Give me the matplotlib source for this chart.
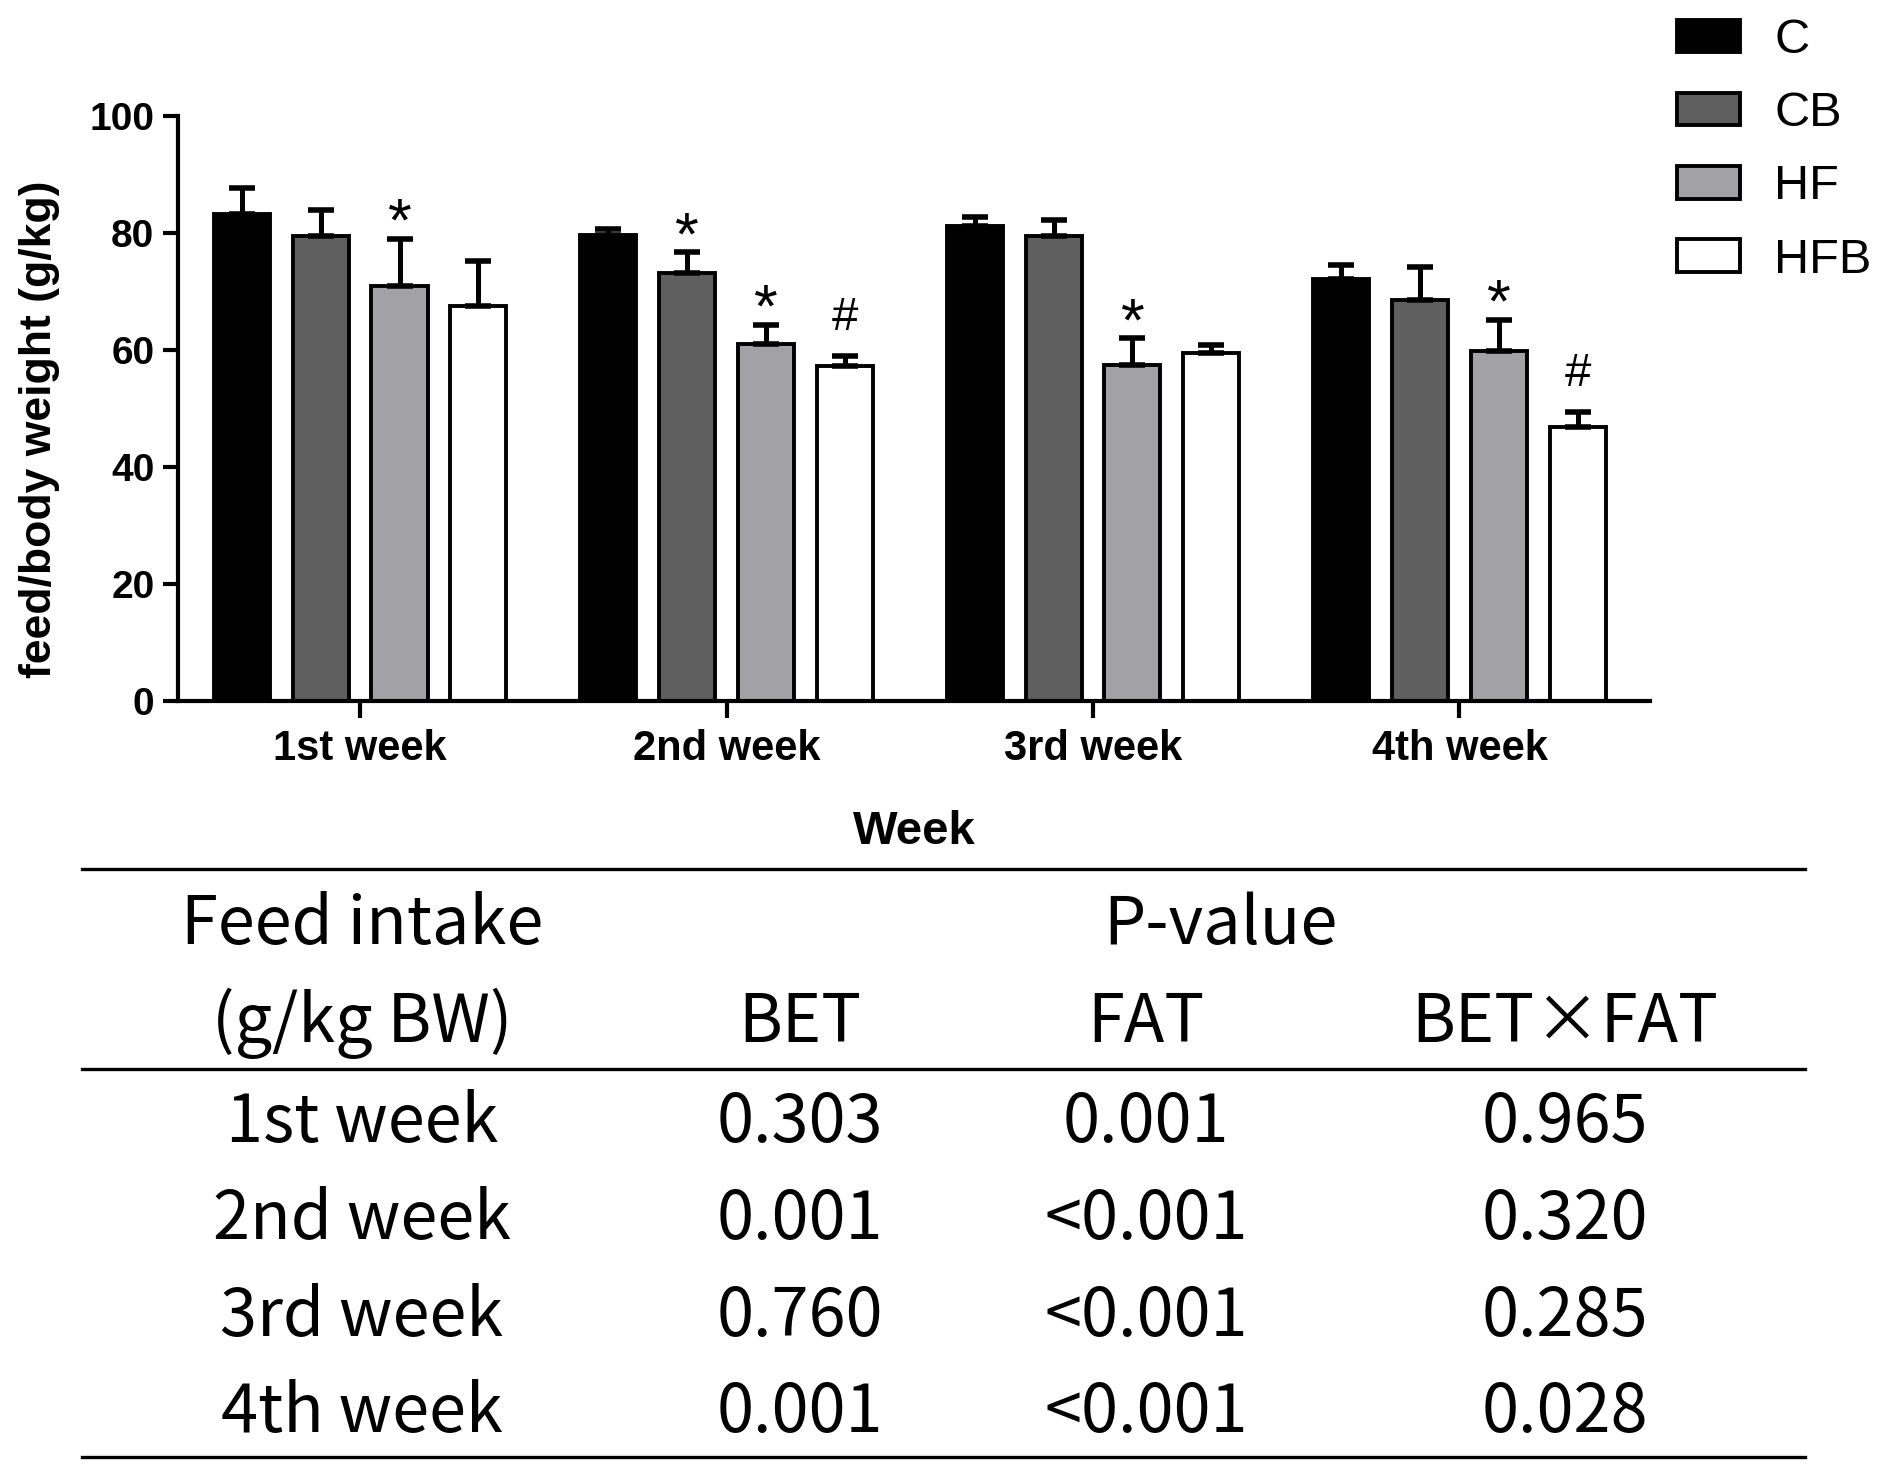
import numpy as np
import matplotlib.pyplot as plt
from matplotlib.lines import Line2D

# ---- data ----
weeks = ['1st week', '2nd week', '3rd week', '4th week']
groups = ['C', 'CB', 'HF', 'HFB']
colors = ['#000000', '#5f5f5f', '#a1a1a6', '#ffffff']

c_mean = [83.2, 79.7, 81.2, 72.1]
c_err = [4.5, 0.9, 1.6, 2.4]
cb_mean = [79.5, 73.1, 79.5, 68.5]
cb_err = [4.5, 3.6, 2.8, 5.7]
hf_mean = [71.0, 61.0, 57.5, 59.9]
hf_err = [8.0, 3.3, 4.5, 5.2]
hfb_mean = [67.5, 57.2, 59.5, 46.9]
hfb_err = [7.7, 1.8, 1.3, 2.5]

means = [c_mean, cb_mean, hf_mean, hfb_mean]
errs = [c_err, cb_err, hf_err, hfb_err]

# significance marks
sig_week = [0, 1, 1, 1, 2, 3, 3]
sig_group = [2, 1, 2, 3, 2, 2, 3]
sig_sym = ['*', '*', '*', '#', '*', '*', '#']

# table
tab_head1 = ['Feed intake', 'P-value']
tab_head2 = ['(g/kg BW)', 'BET', 'FAT', 'BET×FAT']
tab_rows = ['1st week', '2nd week', '3rd week', '4th week']
p_bet = ['0.303', '0.001', '0.760', '0.001']
p_fat = ['0.001', '<0.001', '<0.001', '<0.001']
p_int = ['0.965', '0.320', '0.285', '0.028']

W, H = 1890, 1478
fig = plt.figure(figsize=(W / 100, H / 100), dpi=100)
fig.patch.set_facecolor('white')

afont = 'Liberation Sans'
tfont = ['Noto Sans CJK SC', 'DejaVu Sans']

ax = fig.add_axes([178 / W, 1 - 701 / H, (1650 - 178) / W, (701 - 116) / H])
x = np.arange(len(weeks))
pitch = 0.215
width = 0.153
handles = []
for g in range(4):
    pos = x + (g - 1.5) * pitch
    b = ax.bar(pos, means[g], width, color=colors[g], edgecolor='black',
               linewidth=2.8, zorder=2, label=groups[g])
    handles.append(b)
    ax.errorbar(pos, means[g], yerr=[np.zeros(4), errs[g]], fmt='none',
                ecolor='black', elinewidth=3.6, capsize=9.5, capthick=4, zorder=3)

for w, g, s in zip(sig_week, sig_group, sig_sym):
    top = means[g][w] + errs[g][w]
    if s == '*':
        ax.text(w + (g - 1.5) * pitch, top - 0.3, s, ha='center', va='baseline',
                fontsize=44, family=afont)
    else:
        ax.text(w + (g - 1.5) * pitch, top + 4.5, s, ha='center', va='baseline',
                fontsize=34, family=afont)

ax.set_xlim(-0.497, 3.52)
ax.set_ylim(0, 100)
ax.set_yticks([0, 20, 40, 60, 80, 100])
ax.set_xticks(x)
ax.set_xticklabels(weeks)
for sp in ['top', 'right']:
    ax.spines[sp].set_visible(False)
for sp in ['left', 'bottom']:
    ax.spines[sp].set_linewidth(3)
ax.tick_params(axis='y', length=11, width=3, pad=6, labelsize=28)
ax.tick_params(axis='x', length=12, width=3, pad=8, labelsize=30)
for lab in ax.get_xticklabels() + ax.get_yticklabels():
    lab.set_fontweight('bold')
    lab.set_family(afont)
ax.set_ylabel('feed/body weight (g/kg)', fontsize=32, fontweight='bold', family=afont)
ax.yaxis.set_label_coords(-0.08, 0.465)
ax.set_xlabel('Week', fontsize=34, fontweight='bold', family=afont, labelpad=30)

fig.legend(handles, groups, loc='upper left', bbox_to_anchor=(1677 / W, 1 - 18 / H),
           frameon=False, prop={'family': afont, 'size': 35}, handlelength=1.3,
           handleheight=0.65, handletextpad=0.7, labelspacing=0.58,
           borderpad=0, borderaxespad=0)

# ---- table ----
tx = fig.add_axes([0, 0, 1, 1], facecolor='none')
tx.set_xlim(0, W)
tx.set_ylim(H, 0)
tx.axis('off')
for yl in [869, 1069, 1457]:
    tx.add_line(Line2D([82, 1805], [yl, yl], color='black', linewidth=2.4))

col_x = [362, 800, 1146, 1565]
tk = dict(fontsize=48, family=tfont, fontweight='light', ha='center', va='baseline')
tx.text(col_x[0], 944, tab_head1[0], **tk)
tx.text(1220, 944, tab_head1[1], **tk)
for cx, t in zip(col_x, tab_head2):
    tx.text(cx, 1042, t, **tk)
row_y = [1142, 1239, 1336, 1432]
for i in range(4):
    for cx, t in zip(col_x, [tab_rows[i], p_bet[i], p_fat[i], p_int[i]]):
        tx.text(cx, row_y[i], t, **tk)

fig.savefig('out.png', dpi=100, facecolor='white')
